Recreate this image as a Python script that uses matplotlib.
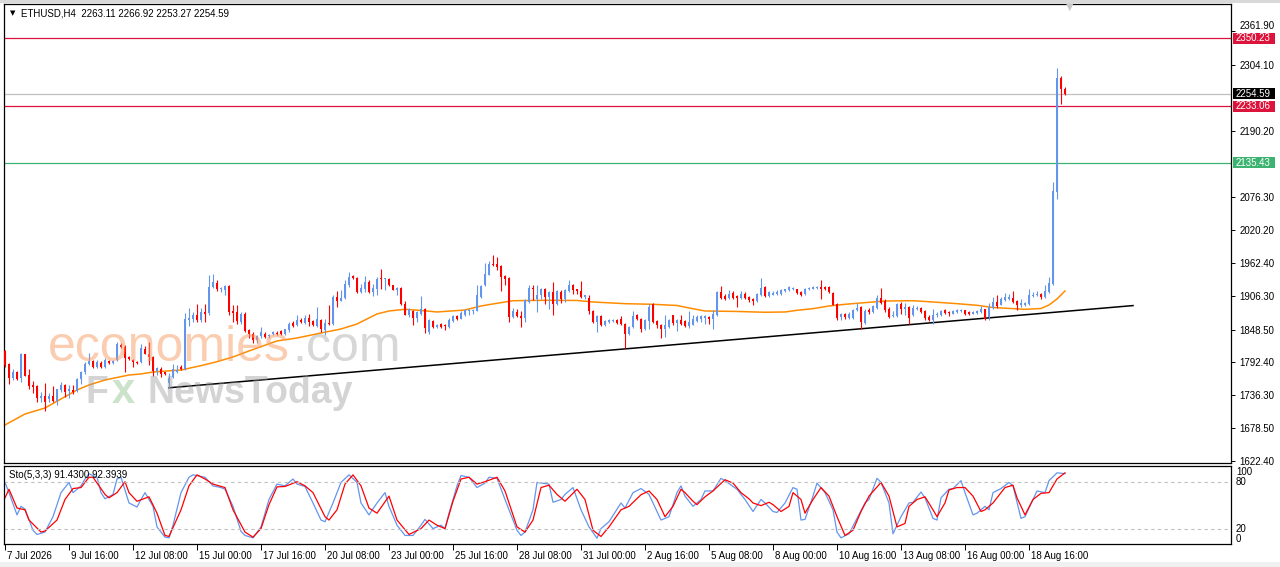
import numpy as np
import matplotlib
matplotlib.use("Agg")
import matplotlib.pyplot as plt
from matplotlib.patches import Rectangle
from matplotlib import transforms

plt.rcParams["font.family"] = ["Liberation Sans", "DejaVu Sans"]

W, H = 1280, 567

# ETHUSD H4 bars, index 0 = 7 Jul 2026 00:00
opens = [
    1811.8, 1789.4, 1765.9, 1775.0, 1764.7, 1806.0, 1770.4, 1753.2, 1750.9, 1730.3,
    1734.3, 1729.1, 1733.7, 1725.7, 1744.0, 1753.2, 1742.9, 1744.0, 1742.9, 1763.6,
    1775.0, 1788.8, 1794.5, 1783.6, 1791.7, 1784.2, 1794.5, 1790.5, 1795.7, 1822.1,
    1819.2, 1800.9, 1796.3, 1793.4, 1792.3, 1814.6, 1806.6, 1802.0, 1777.3, 1781.0,
    1775.0, 1756.1, 1766.4, 1775.0, 1784.8, 1780.2, 1865.1, 1866.8, 1873.7, 1865.1,
    1879.5, 1876.6, 1922.5, 1929.0, 1918.0, 1917.4, 1923.1, 1880.1, 1878.9, 1861.7,
    1876.0, 1847.4, 1841.6, 1830.0, 1837.0, 1841.6, 1837.6, 1841.6, 1843.3, 1845.6,
    1841.6, 1847.4, 1860.0, 1856.0, 1865.7, 1860.0, 1868.6, 1863.4, 1854.8, 1864.6,
    1847.4, 1860.6, 1858.8, 1904.7, 1898.4, 1903.6, 1926.0, 1940.3, 1937.4, 1913.3,
    1919.1, 1930.6, 1913.3, 1919.1, 1937.4, 1935.2, 1936.3, 1924.8, 1917.4, 1920.2,
    1893.3, 1873.2, 1880.1, 1868.6, 1876.0, 1884.7, 1844.5, 1862.8, 1853.1, 1858.8,
    1857.1, 1853.1, 1862.8, 1871.5, 1867.4, 1873.2, 1880.1, 1880.1, 1881.2, 1904.7,
    1924.8, 1943.2, 1962.1, 1962.1, 1958.1, 1940.9, 1937.4, 1870.3, 1878.9, 1872.0,
    1869.2, 1896.1, 1920.8, 1901.9, 1908.8, 1919.1, 1904.7, 1913.3, 1893.3, 1913.3,
    1901.9, 1914.5, 1926.0, 1917.9, 1914.5, 1904.7, 1903.0, 1880.1, 1861.7, 1872.0,
    1857.1, 1861.7, 1862.8, 1864.6, 1866.3, 1858.8, 1841.6, 1853.1, 1874.3, 1866.3,
    1850.2, 1862.9, 1892.1, 1862.9, 1857.1, 1849.1, 1853.1, 1873.2, 1860.6, 1865.7,
    1862.9, 1854.3, 1857.1, 1862.9, 1867.5, 1868.6, 1870.3, 1867.5, 1873.2, 1913.4,
    1906.5, 1903.0, 1912.2, 1906.5, 1903.0, 1910.5, 1904.8, 1901.9, 1897.3, 1907.6,
    1922.0, 1906.5, 1908.8, 1910.5, 1910.5, 1914.5, 1916.2, 1918.0, 1918.0, 1913.4,
    1910.5, 1918.0, 1919.1, 1920.3, 1922.0, 1922.0, 1922.0, 1912.2, 1893.3, 1870.3,
    1876.1, 1868.6, 1868.6, 1881.8, 1887.6, 1860.6, 1881.8, 1879.0, 1885.8, 1903.0,
    1898.5, 1884.7, 1872.1, 1872.1, 1892.7, 1884.7, 1887.6, 1873.2, 1883.5, 1885.8,
    1880.7, 1870.3, 1864.6, 1873.2, 1874.4, 1881.8, 1879.0, 1876.1, 1879.0, 1880.1,
    1881.8, 1879.0, 1876.1, 1877.8, 1879.0, 1883.5, 1870.3, 1885.8, 1896.2, 1891.6,
    1899.0, 1901.9, 1903.0, 1898.5, 1890.4, 1891.6, 1893.3, 1906.5, 1907.7, 1909.9,
    1904.8, 1913.4, 1927.7, 2085.5, 2281.8, 2263.11,
]
highs = [
    1813.5, 1791.7, 1780.2, 1777.3, 1808.9, 1806.6, 1780.2, 1760.1, 1753.2, 1741.8,
    1756.1, 1740.0, 1751.5, 1746.3, 1757.8, 1755.5, 1753.2, 1753.2, 1764.7, 1777.3,
    1793.4, 1807.7, 1796.3, 1796.3, 1794.5, 1799.1, 1796.3, 1796.3, 1826.7, 1826.1,
    1822.1, 1803.7, 1797.4, 1794.5, 1823.2, 1820.9, 1826.7, 1802.5, 1784.8, 1784.2,
    1776.2, 1773.3, 1789.9, 1787.7, 1787.7, 1877.7, 1885.2, 1879.5, 1892.1, 1886.4,
    1892.1, 1942.6, 1944.3, 1933.4, 1922.0, 1924.8, 1924.8, 1890.4, 1891.5, 1878.9,
    1878.9, 1849.1, 1844.0, 1840.0, 1853.1, 1844.5, 1841.6, 1845.6, 1845.6, 1848.5,
    1850.2, 1861.7, 1862.8, 1874.3, 1868.6, 1874.3, 1876.0, 1865.7, 1887.5, 1867.4,
    1867.4, 1891.5, 1907.6, 1914.5, 1916.2, 1933.4, 1947.8, 1943.2, 1939.2, 1927.7,
    1940.9, 1933.4, 1927.7, 1939.2, 1953.5, 1937.4, 1937.4, 1926.0, 1922.0, 1922.0,
    1897.3, 1885.8, 1881.8, 1880.1, 1906.5, 1885.8, 1867.4, 1864.6, 1858.8, 1860.6,
    1858.8, 1868.6, 1873.2, 1874.3, 1880.1, 1883.5, 1883.5, 1884.7, 1924.8, 1926.0,
    1963.8, 1966.1, 1976.5, 1973.6, 1959.2, 1943.2, 1938.6, 1885.8, 1883.5, 1880.1,
    1901.9, 1926.0, 1926.0, 1924.8, 1920.2, 1920.2, 1914.5, 1930.6, 1916.2, 1916.2,
    1918.0, 1933.4, 1927.7, 1919.1, 1931.7, 1908.8, 1908.8, 1881.8, 1874.3, 1873.2,
    1864.6, 1866.3, 1867.4, 1866.3, 1872.0, 1860.6, 1854.8, 1880.1, 1876.0, 1868.6,
    1867.4, 1893.3, 1895.0, 1864.6, 1858.9, 1873.2, 1867.5, 1874.4, 1867.5, 1873.2,
    1864.6, 1880.1, 1874.4, 1873.2, 1874.4, 1874.4, 1871.5, 1881.8, 1914.5, 1923.7,
    1910.5, 1916.2, 1914.5, 1908.8, 1914.5, 1913.4, 1906.5, 1903.0, 1912.2, 1937.5,
    1923.1, 1914.5, 1914.5, 1916.2, 1919.1, 1919.1, 1923.1, 1922.0, 1919.1, 1914.5,
    1920.3, 1922.0, 1923.7, 1923.7, 1933.5, 1923.1, 1923.7, 1913.4, 1895.0, 1877.8,
    1877.8, 1878.9, 1883.5, 1895.0, 1889.3, 1883.5, 1885.8, 1891.6, 1907.7, 1920.3,
    1900.8, 1887.0, 1880.1, 1895.0, 1896.2, 1895.0, 1889.3, 1890.4, 1888.7, 1887.6,
    1881.8, 1873.2, 1884.7, 1879.0, 1881.8, 1883.5, 1880.1, 1881.8, 1883.5, 1883.5,
    1883.0, 1880.1, 1880.1, 1881.8, 1889.3, 1884.7, 1895.0, 1904.8, 1907.7, 1904.8,
    1912.2, 1910.5, 1914.5, 1899.0, 1901.9, 1896.2, 1919.1, 1913.4, 1914.5, 1911.6,
    1926.0, 1939.2, 2102.7, 2299.0, 2285.2, 2266.92,
]
lows = [
    1784.8, 1754.4, 1761.8, 1761.8, 1757.8, 1768.1, 1746.3, 1738.9, 1723.4, 1723.4,
    1709.0, 1723.4, 1723.4, 1718.2, 1741.8, 1732.6, 1730.3, 1737.2, 1741.2, 1754.4,
    1772.7, 1787.7, 1781.9, 1782.5, 1783.1, 1783.1, 1788.8, 1788.8, 1794.0, 1816.3,
    1776.2, 1796.3, 1784.8, 1789.9, 1790.5, 1806.0, 1787.7, 1768.7, 1770.4, 1767.6,
    1770.4, 1748.6, 1764.7, 1773.3, 1779.0, 1778.5, 1855.4, 1862.2, 1861.1, 1862.2,
    1861.1, 1873.7, 1920.8, 1914.5, 1913.3, 1907.6, 1873.2, 1861.7, 1858.8, 1858.8,
    1844.5, 1834.2, 1825.0, 1826.0, 1834.0, 1834.2, 1834.2, 1839.9, 1839.9, 1839.9,
    1839.9, 1844.5, 1853.1, 1854.8, 1860.6, 1858.8, 1854.8, 1854.8, 1853.1, 1844.5,
    1838.8, 1857.1, 1857.1, 1887.5, 1897.3, 1901.9, 1922.0, 1935.2, 1912.2, 1912.2,
    1913.3, 1912.2, 1906.5, 1907.6, 1919.1, 1916.2, 1923.1, 1916.2, 1907.6, 1890.4,
    1873.2, 1870.3, 1856.0, 1861.7, 1873.2, 1843.3, 1841.6, 1851.4, 1851.4, 1851.4,
    1847.4, 1851.4, 1861.7, 1864.6, 1866.3, 1872.0, 1874.3, 1875.5, 1880.1, 1903.0,
    1923.7, 1942.0, 1958.1, 1950.6, 1914.5, 1924.8, 1861.7, 1868.6, 1870.3, 1853.1,
    1861.7, 1895.0, 1899.0, 1878.9, 1901.9, 1893.3, 1884.7, 1874.3, 1891.5, 1895.0,
    1896.1, 1913.3, 1910.5, 1910.5, 1903.0, 1901.9, 1876.0, 1860.6, 1844.5, 1854.8,
    1854.8, 1860.6, 1861.7, 1858.8, 1857.1, 1817.0, 1839.9, 1851.4, 1864.6, 1844.5,
    1847.4, 1850.3, 1860.6, 1851.4, 1834.2, 1835.9, 1851.4, 1856.0, 1845.7, 1856.0,
    1853.1, 1851.4, 1856.0, 1861.7, 1861.7, 1858.9, 1858.9, 1850.3, 1872.0, 1901.9,
    1899.0, 1901.9, 1901.9, 1887.6, 1901.9, 1901.9, 1896.2, 1891.6, 1896.2, 1906.5,
    1904.8, 1904.8, 1907.6, 1908.8, 1908.8, 1913.4, 1914.5, 1916.2, 1910.5, 1906.5,
    1908.8, 1916.2, 1918.0, 1919.1, 1901.9, 1916.2, 1912.2, 1890.4, 1864.6, 1864.6,
    1867.5, 1867.5, 1867.5, 1880.1, 1849.1, 1858.9, 1876.1, 1877.8, 1884.7, 1893.3,
    1879.0, 1868.6, 1870.3, 1870.3, 1876.1, 1873.2, 1858.9, 1872.1, 1881.8, 1877.8,
    1864.6, 1862.9, 1858.9, 1870.3, 1872.1, 1876.1, 1872.1, 1874.9, 1877.8, 1879.0,
    1873.2, 1874.4, 1874.9, 1876.1, 1877.8, 1864.6, 1864.6, 1884.7, 1885.8, 1890.4,
    1897.3, 1899.0, 1895.0, 1881.8, 1887.6, 1889.3, 1891.6, 1904.8, 1906.5, 1901.9,
    1903.0, 1912.2, 1926.0, 2074.0, 2237.6, 2253.27,
]
closes = [
    1787.7, 1764.7, 1776.2, 1763.6, 1806.6, 1769.3, 1752.1, 1749.8, 1731.4, 1734.9,
    1724.5, 1734.3, 1725.7, 1745.8, 1753.2, 1741.8, 1746.3, 1741.8, 1763.6, 1776.2,
    1790.0, 1794.5, 1783.6, 1792.3, 1784.2, 1796.8, 1790.5, 1794.5, 1823.8, 1819.2,
    1799.1, 1797.4, 1793.4, 1791.7, 1816.3, 1806.6, 1802.0, 1777.3, 1782.5, 1772.2,
    1772.2, 1765.9, 1780.8, 1778.5, 1780.8, 1866.3, 1869.1, 1873.7, 1865.1, 1879.5,
    1875.5, 1922.5, 1930.0, 1919.1, 1919.1, 1923.1, 1878.9, 1877.2, 1862.8, 1876.0,
    1846.2, 1841.6, 1830.0, 1837.0, 1845.0, 1835.9, 1839.9, 1844.5, 1841.6, 1841.6,
    1849.1, 1858.8, 1854.8, 1865.7, 1861.7, 1868.6, 1861.7, 1857.1, 1867.4, 1849.1,
    1860.6, 1858.8, 1904.7, 1898.4, 1903.0, 1926.5, 1939.2, 1937.4, 1913.3, 1920.2,
    1930.6, 1913.3, 1920.2, 1936.3, 1936.3, 1936.3, 1924.8, 1917.4, 1920.2, 1893.3,
    1874.3, 1884.7, 1868.6, 1878.9, 1883.5, 1851.4, 1864.6, 1853.1, 1857.1, 1853.1,
    1854.8, 1864.6, 1871.5, 1867.4, 1877.2, 1881.8, 1881.8, 1883.0, 1908.8, 1923.1,
    1944.9, 1962.1, 1960.4, 1956.4, 1939.2, 1936.3, 1870.3, 1880.1, 1872.0, 1869.2,
    1899.0, 1920.8, 1917.9, 1908.8, 1919.1, 1904.7, 1913.3, 1893.3, 1914.5, 1901.9,
    1916.2, 1926.0, 1916.2, 1914.5, 1904.7, 1907.6, 1880.1, 1861.7, 1872.0, 1857.1,
    1862.8, 1864.6, 1864.6, 1860.6, 1858.8, 1841.6, 1853.1, 1872.0, 1866.3, 1850.2,
    1864.6, 1887.6, 1861.7, 1856.0, 1849.1, 1856.0, 1865.7, 1860.6, 1864.6, 1858.9,
    1854.3, 1861.7, 1867.5, 1870.3, 1871.5, 1871.5, 1867.5, 1876.1, 1913.4, 1903.0,
    1901.9, 1910.5, 1903.0, 1903.0, 1910.5, 1903.0, 1899.0, 1897.3, 1910.5, 1920.3,
    1906.5, 1913.4, 1912.2, 1913.4, 1916.2, 1918.0, 1922.0, 1920.3, 1912.2, 1907.6,
    1919.1, 1920.3, 1922.0, 1922.0, 1919.1, 1919.1, 1913.4, 1891.6, 1868.6, 1876.1,
    1870.3, 1876.1, 1883.0, 1885.8, 1861.7, 1880.1, 1879.0, 1889.3, 1903.0, 1895.0,
    1881.8, 1870.3, 1874.4, 1892.7, 1883.5, 1887.6, 1868.6, 1885.8, 1885.8, 1879.0,
    1868.6, 1864.6, 1874.4, 1876.1, 1880.1, 1877.8, 1877.8, 1880.1, 1881.8, 1881.8,
    1876.1, 1876.1, 1879.0, 1880.1, 1883.5, 1867.5, 1887.6, 1896.2, 1889.3, 1900.8,
    1904.8, 1904.8, 1896.2, 1890.4, 1894.4, 1895.0, 1907.7, 1908.8, 1909.9, 1904.8,
    1914.5, 1929.4, 2086.7, 2281.8, 2262.2, 2254.59,
]

# moving average (orange), read at selected bars
ma_bars = [0, 5, 10, 18, 21, 25, 31, 34, 37, 44, 49, 53, 57, 61, 68, 73, 79, 84, 88, 91,
           93, 96, 100, 104, 108, 115, 119, 122, 127, 135, 143, 147, 155, 162, 168, 171,
           175, 183, 190, 195, 198, 202, 206, 210, 214, 220, 227, 232, 238, 243, 247,
           255, 259, 261, 263, 265]
ma_vals = [1684.4, 1703.3, 1713.6, 1744.6, 1753.2, 1761.8, 1770.4, 1772.2, 1775.6, 1779.0,
           1786.5, 1793.3, 1801.4, 1811.8, 1829.0, 1834.1, 1842.7, 1849.6, 1858.2, 1868.6,
           1875.5, 1880.6, 1883.5, 1881.5, 1878.9, 1882.3, 1889.2, 1892.7, 1898.3, 1899.0,
           1898.7, 1896.1, 1893.2, 1892.1, 1890.1, 1885.8, 1880.6, 1879.8, 1878.4, 1878.9,
           1881.8, 1884.6, 1889.2, 1892.1, 1894.4, 1897.8, 1898.3, 1896.1, 1893.2, 1890.4,
           1886.6, 1883.5, 1884.9, 1890.9, 1901.3, 1915.0]

# stochastic (5,3,3) main and signal, read at turning points
k_bars = [0, 1, 3, 4, 5, 7, 8, 10, 12, 14, 16, 17, 19, 20, 21, 23, 24, 25, 27, 28, 29, 31,
          33, 34, 35, 37, 38, 40, 41, 42, 44, 46, 47, 50, 52, 54, 55, 57, 59, 60, 62, 64,
          66, 68, 70, 72, 73, 75, 77, 79, 80, 82, 84, 86, 88, 89, 91, 93, 95, 96, 98, 100,
          102, 104, 105, 107, 109, 110, 111, 113, 114, 116, 118, 120, 121, 123, 125, 128,
          129, 130, 132, 133, 136, 137, 139, 140, 142, 144, 146, 148, 149, 151, 154, 155,
          157, 159, 161, 162, 164, 166, 168, 169, 170, 172, 174, 175, 177, 179, 180, 183,
          185, 187, 189, 190, 192, 193, 195, 197, 198, 199, 200, 202, 203, 205, 207, 208,
          209, 211, 213, 215, 216, 218, 219, 221, 222, 224, 226, 227, 229, 230, 232, 233,
          234, 236, 237, 239, 240, 242, 243, 245, 246, 247, 249, 251, 252, 254, 255, 257,
          258, 260, 261, 263, 265]
k_vals = [80.0, 66.7, 37.8, 48.9, 45.3, 17.8, 12.4, 15.5, 35.5, 66.7, 80.0, 66.7, 75.5,
          84.4, 91.1, 86.7, 66.7, 58.7, 64.4, 84.4, 86.7, 53.3, 48.0, 57.8, 66.7, 48.9,
          22.2, 8.9, 8.0, 24.4, 66.7, 86.7, 89.8, 86.7, 75.5, 73.3, 71.1, 48.9, 16.4,
          11.1, 8.0, 22.2, 57.8, 77.8, 75.5, 84.4, 77.8, 74.7, 53.3, 31.1, 28.9, 53.3,
          80.0, 89.8, 80.0, 53.3, 37.8, 53.3, 66.7, 48.9, 24.4, 11.1, 11.1, 24.4, 32.0,
          20.0, 24.4, 20.0, 40.0, 75.5, 88.9, 86.7, 73.3, 79.1, 86.7, 85.3, 57.8, 17.8,
          11.1, 15.5, 44.4, 80.0, 77.8, 54.2, 57.8, 64.4, 73.3, 44.4, 22.2, 7.5, 20.0,
          28.9, 53.3, 46.7, 66.7, 72.0, 64.4, 53.3, 31.1, 35.5, 66.7, 75.5, 62.2, 48.9,
          57.8, 68.9, 68.9, 85.3, 82.2, 71.1, 57.8, 42.2, 57.8, 53.3, 42.2, 40.9, 53.3,
          73.3, 71.1, 31.1, 32.0, 62.2, 79.1, 66.7, 44.4, 15.5, 8.0, 13.3, 33.3, 53.3,
          57.8, 85.3, 80.0, 53.3, 13.3, 35.5, 53.3, 54.2, 67.5, 60.0, 33.3, 31.1, 60.0,
          71.1, 72.0, 82.2, 66.7, 37.8, 40.0, 48.9, 44.4, 66.7, 72.0, 80.0, 75.5, 33.3,
          35.5, 57.8, 68.9, 66.7, 82.2, 92.4, 91.43]
d_bars = [0, 1, 3, 5, 6, 9, 10, 13, 15, 17, 19, 21, 22, 25, 26, 28, 30, 31, 33, 36, 38,
          40, 41, 44, 46, 48, 50, 52, 55, 57, 60, 62, 64, 66, 68, 70, 73, 75, 77, 80, 81,
          83, 85, 87, 89, 91, 93, 96, 98, 101, 104, 106, 108, 110, 112, 114, 116, 118,
          120, 123, 125, 128, 130, 132, 134, 136, 138, 140, 143, 145, 147, 149, 151, 154,
          156, 159, 161, 163, 165, 167, 169, 170, 172, 173, 175, 177, 180, 182, 184, 186,
          187, 189, 191, 192, 194, 196, 197, 199, 200, 202, 204, 206, 208, 210, 212, 214,
          216, 219, 221, 223, 225, 226, 228, 230, 232, 233, 235, 236, 238, 240, 242, 244,
          245, 247, 249, 250, 252, 253, 255, 257, 259, 261, 263, 265]
d_vals = [60.0, 71.1, 46.7, 44.4, 31.1, 15.5, 16.9, 31.1, 57.8, 72.0, 73.3, 86.7, 86.7,
          64.4, 60.0, 66.7, 80.9, 66.7, 55.5, 61.3, 40.0, 11.1, 9.8, 44.4, 75.5, 89.8,
          84.4, 77.8, 73.3, 44.4, 15.5, 8.9, 20.0, 51.1, 74.2, 74.7, 80.9, 75.5, 66.7,
          35.5, 31.1, 44.4, 77.8, 89.8, 75.5, 46.7, 40.0, 62.2, 31.1, 12.4, 20.0, 31.1,
          24.4, 20.0, 55.5, 84.4, 86.7, 77.8, 80.9, 86.7, 68.9, 22.2, 15.5, 31.1, 73.3,
          76.4, 64.4, 55.5, 71.1, 57.8, 17.8, 9.8, 22.2, 44.4, 48.9, 64.0, 68.9, 57.8,
          35.5, 48.9, 71.1, 66.7, 55.5, 51.1, 61.3, 68.9, 83.5, 79.1, 66.7, 58.7, 53.3,
          49.8, 54.2, 51.1, 42.2, 48.9, 66.7, 57.8, 40.0, 57.8, 73.3, 62.2, 35.5, 11.1,
          17.8, 42.2, 62.2, 80.0, 62.2, 22.2, 26.7, 48.9, 57.8, 61.3, 44.4, 35.5, 53.3,
          70.2, 73.3, 73.3, 62.2, 42.2, 44.4, 53.3, 66.7, 73.3, 76.4, 60.0, 37.8, 57.8,
          65.8, 66.7, 84.4, 92.39]

# support trendline anchors (bar, price)
trend_bars = [41, 282]
trend_prices = [1748.4, 1889.9]

# horizontal levels
levels = [(2350.23, "#DC143C"), (2233.06, "#DC143C"), (2135.43, "#3CB371")]
bid = 2254.59

price_ticks = [2361.90, 2304.10, 2190.20, 2076.30, 2020.20, 1962.40,
               1906.30, 1848.50, 1792.40, 1736.30, 1678.50, 1622.40]
date_bars = list(range(0, 257, 16))
date_labels = ["7 Jul 2026", "9 Jul 16:00", "12 Jul 08:00", "15 Jul 00:00",
               "17 Jul 16:00", "20 Jul 08:00", "23 Jul 00:00", "25 Jul 16:00",
               "28 Jul 08:00", "31 Jul 00:00", "2 Aug 16:00", "5 Aug 08:00",
               "8 Aug 00:00", "10 Aug 16:00", "13 Aug 08:00", "16 Aug 00:00",
               "18 Aug 16:00"]

BLUE = "#6495ED"
RED = "#FF0000"

fig = plt.figure(figsize=(W / 100, H / 100), dpi=100)
fig.patch.set_facecolor("white")
ax = fig.add_axes([4 / W, (H - 463) / H, 1227 / W, 459 / H])
ax2 = fig.add_axes([4 / W, (H - 544) / H, 1227 / W, 78 / H])

o = np.array(opens)
h = np.array(highs)
l = np.array(lows)
c = np.array(closes)
x = np.arange(len(o))
cols = np.where(c >= o, BLUE, RED)

ax.vlines(x, l, h, colors=cols, linewidth=0.8, zorder=3)
body_lo = np.minimum(o, c)
body_h = np.maximum(np.abs(c - o), 1.5)
ax.bar(x, body_h, bottom=body_lo, width=0.74, color=cols, linewidth=0, zorder=3)

ax.plot(ma_bars, ma_vals, color="#FF8C00", linewidth=1.1, zorder=2)
ax.plot(trend_bars, trend_prices, color="black", linewidth=1.1, zorder=2)

for price, col in levels:
    ax.axhline(price, color=col, linewidth=0.9, zorder=1)
ax.axhline(bid, color="#C0C0C0", linewidth=0.9, zorder=1)

ylo, yhi = 1618.9, 2409.1
ax.set_ylim(ylo, yhi)
ax.set_xlim(-0.25, 306.5)
ax.yaxis.tick_right()
ax.set_yticks(price_ticks)
ax.set_yticklabels([f"{v:.2f}" for v in price_ticks])
ax.tick_params(axis="y", direction="out", length=3, width=0.7, pad=3, labelsize=7)
ax.tick_params(axis="x", bottom=False, labelbottom=False)
# top tick label sits just above the 2350.23 box, as on the terminal
ax.get_yticklabels()[0].set_va("bottom")
for s in ax.spines.values():
    s.set_color("black")
    s.set_linewidth(0.9)

# right-hand price boxes
tr = transforms.blended_transform_factory(fig.transFigure, ax.transData)
box_h = 11 * (yhi - ylo) / 459
for price, col in levels + [(bid, "black")]:
    ax.add_patch(Rectangle((1233 / W, price - box_h / 2), 42 / W, box_h, transform=tr,
                           facecolor=col, edgecolor="none", clip_on=False, zorder=6))
    ax.text(1236 / W, price, f"{price:.2f}", transform=tr, color="white", fontsize=7,
            va="center", ha="left", zorder=7, clip_on=False)

# header
fig.text(10 / W, 1 - 13 / H, "▼", fontsize=5, va="center", ha="left", family="DejaVu Sans")
fig.text(21 / W, 1 - 13 / H, "ETHUSD,H4  2263.11 2266.92 2253.27 2254.59",
         fontsize=7, va="center", ha="left")
fig.text(1070 / W, 1 - 7 / H, "▼", fontsize=7, color="#C8C8C8", va="center",
         ha="center", family="DejaVu Sans")

# stochastic panel
ax2.plot(k_bars, k_vals, color=BLUE, linewidth=0.9)
ax2.plot(d_bars, d_vals, color=RED, linewidth=0.9)
for lv in (80, 20):
    ax2.axhline(lv, color="#C0C0C0", linewidth=0.8, dashes=(3, 3))
ax2.set_ylim(0, 101.3)
ax2.set_xlim(-0.25, 306.5)
ax2.set_yticks([])
ax2.set_xticks(date_bars)
ax2.set_xticklabels(date_labels, ha="left", fontsize=7)
ax2.tick_params(axis="x", direction="out", length=4, width=0.7, pad=1)
off = transforms.ScaledTranslation(2 / 100, 0, fig.dpi_scale_trans)
for lab in ax2.get_xticklabels():
    lab.set_transform(lab.get_transform() + off)
for s in ax2.spines.values():
    s.set_color("black")
    s.set_linewidth(0.9)
tr2 = transforms.blended_transform_factory(fig.transFigure, ax2.transData)
ax2.text(1236 / W, 100, "100", transform=tr2, fontsize=7, va="top", ha="left", clip_on=False)
ax2.text(1236 / W, 80, "80", transform=tr2, fontsize=7, va="center", ha="left", clip_on=False)
ax2.text(1236 / W, 20, "20", transform=tr2, fontsize=7, va="center", ha="left", clip_on=False)
ax2.text(1236 / W, 0, "0", transform=tr2, fontsize=7, va="bottom", ha="left", clip_on=False)
fig.text(9 / W, 1 - 475 / H, "Sto(5,3,3) 91.4300 92.3939", fontsize=7, va="center", ha="left")

# watermark
fig.text(48 / W, 1 - 361 / H, "economies", fontsize=36, color="#F79A62", alpha=0.5,
         va="baseline", ha="left")
fig.text(292 / W, 1 - 361 / H, ".com", fontsize=36, color="#A0A0A0", alpha=0.42,
         va="baseline", ha="left")
fig.text(85 / W, 1 - 403 / H, "F", fontsize=27, weight="bold", color="#9A9A9A", alpha=0.42,
         va="baseline", ha="left")
fig.text(112 / W, 1 - 403 / H, "x", fontsize=30, weight="bold", color="#8CC08C", alpha=0.45,
         va="baseline", ha="left")
fig.text(148 / W, 1 - 403 / H, "NewsToday", fontsize=27, weight="bold", color="#9A9A9A",
         alpha=0.42, va="baseline", ha="left")

# window frame strips
fig.patches.append(Rectangle((0, 1 - 3 / H), 1, 3 / H, transform=fig.transFigure,
                             facecolor="#D9D9D9", edgecolor="none"))
fig.patches.append(Rectangle((0, 0), 1, 5 / H, transform=fig.transFigure,
                             facecolor="#F0F0F0", edgecolor="none"))

fig.savefig("out.png", dpi=100)
